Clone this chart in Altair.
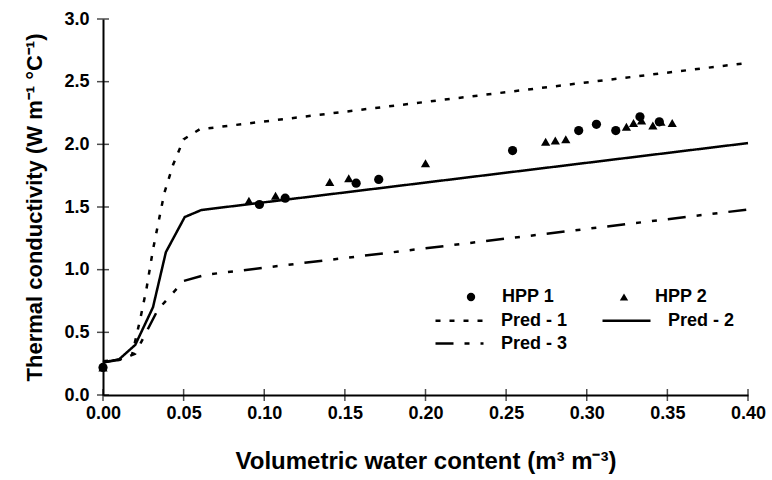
import altair as alt
import pandas as pd

# ---- data ----
hpp1_x = [0.0, 0.097, 0.113, 0.157, 0.171, 0.254, 0.295, 0.306, 0.318, 0.333, 0.345]
hpp1_y = [0.22, 1.52, 1.57, 1.69, 1.72, 1.95, 2.11, 2.16, 2.11, 2.22, 2.18]

hpp2_x = [0.0, 0.0905, 0.107, 0.1406, 0.1524, 0.200, 0.2745, 0.2805, 0.287,
          0.3246, 0.329, 0.334, 0.341, 0.346, 0.353]
hpp2_y = [0.22, 1.55, 1.59, 1.70, 1.73, 1.85, 2.02, 2.03, 2.04,
          2.14, 2.17, 2.19, 2.15, 2.18, 2.17]

pred1_x = [0.0, 0.010, 0.018, 0.023, 0.027, 0.031, 0.038, 0.0434, 0.050, 0.060, 0.40]
pred1_y = [0.27, 0.28, 0.32, 0.60, 0.85, 1.16, 1.61, 1.835, 2.04, 2.12, 2.65]

pred2_x = [0.0, 0.010, 0.020, 0.031, 0.039, 0.0507, 0.061, 0.40]
pred2_y = [0.26, 0.285, 0.40, 0.70, 1.14, 1.42, 1.476, 2.01]

pred3_x = [0.0, 0.010, 0.020, 0.026, 0.034, 0.0424, 0.050, 0.064, 0.40]
pred3_y = [0.26, 0.28, 0.33, 0.48, 0.68, 0.80, 0.91, 0.96, 1.48]

x_ticks = [0.0, 0.05, 0.10, 0.15, 0.20, 0.25, 0.30, 0.35, 0.40]
y_ticks = [0.0, 0.5, 1.0, 1.5, 2.0, 2.5, 3.0]

point_series = ["HPP 1", "HPP 2"]
line_series = ["Pred - 1", "Pred - 2", "Pred - 3"]

# ---- tables ----
pts = pd.concat([
    pd.DataFrame({"x": hpp1_x, "y": hpp1_y, "series": "HPP 1"}),
    pd.DataFrame({"x": hpp2_x, "y": hpp2_y, "series": "HPP 2"}),
], ignore_index=True)

frames = []
for name, xs, ys in [("Pred - 1", pred1_x, pred1_y),
                     ("Pred - 2", pred2_x, pred2_y),
                     ("Pred - 3", pred3_x, pred3_y)]:
    frames.append(pd.DataFrame({"x": xs, "y": ys, "series": name,
                                "order": list(range(len(xs)))}))
lines_df = pd.concat(frames, ignore_index=True)

FONT = "Liberation Sans"

xscale = alt.Scale(domain=[0, 0.4], nice=False, zero=False)
yscale = alt.Scale(domain=[0, 3.0], nice=False)

xaxis = alt.Axis(values=x_ticks, format=".2f", title="Volumetric water content (m³ m⁻³)",
                 ticks=False, grid=False, labelPadding=9, titlePadding=27,
                 labelFlush=False, titleFontSize=24)
yaxis = alt.Axis(values=y_ticks, format=".1f", title="Thermal conductivity (W m⁻¹ °C⁻¹)",
                 ticks=False, grid=False, labelPadding=14, titlePadding=17,
                 labelFlush=False, titleFontSize=22)

lines = alt.Chart(lines_df).mark_line(color="black", strokeWidth=2.5).encode(
    x=alt.X("x:Q", scale=xscale, axis=xaxis),
    y=alt.Y("y:Q", scale=yscale, axis=yaxis),
    strokeDash=alt.StrokeDash(
        "series:N",
        scale=alt.Scale(domain=line_series,
                        range=[[5, 9], [1, 0], [18, 11, 5, 11, 5, 11]]),
        legend=alt.Legend(title=None, orient="none", legendX=343, legendY=288,
                          direction="horizontal",
                          columns=2, columnPadding=29, rowPadding=0,
                          symbolType="M-2,0H2", symbolSize=576,
                          symbolStrokeWidth=2.5, symbolStrokeColor="black",
                          labelOffset=28, labelFontSize=18, labelFont=FONT,
                          labelFontWeight="bold", labelColor="black"),
    ),
    order="order:Q",
)

points = alt.Chart(pts).mark_point(filled=True, opacity=1, color="black", size=85).encode(
    x=alt.X("x:Q", scale=xscale),
    y=alt.Y("y:Q", scale=yscale),
    shape=alt.Shape(
        "series:N",
        scale=alt.Scale(domain=point_series, range=["circle", "triangle-up"]),
        legend=alt.Legend(title=None, orient="none", legendX=359, legendY=269,
                          direction="horizontal",
                          columns=2, columnPadding=60,
                          symbolSize=70, symbolFillColor="black",
                          symbolStrokeColor="black", symbolOpacity=1,
                          labelOffset=22, labelFontSize=18, labelFont=FONT,
                          labelFontWeight="bold", labelColor="black"),
    ),
)

xt = alt.Chart(pd.DataFrame({"v": x_ticks})).mark_tick(
    color="black", thickness=1.5, size=12, orient="vertical"
).encode(x=alt.X("v:Q", scale=xscale), y=alt.datum(0))

yt = alt.Chart(pd.DataFrame({"v": y_ticks})).mark_tick(
    color="black", thickness=1.5, size=12, orient="horizontal"
).encode(y=alt.Y("v:Q", scale=yscale), x=alt.datum(0))

chart = alt.layer(lines, points, xt, yt).properties(
    width=645, height=376,
    autosize=alt.AutoSizeParams(type="none"),
    padding={"left": 103, "top": 19, "right": 24, "bottom": 85},
).configure_view(stroke=None).configure_axis(
    domainColor="black", domainWidth=2,
    labelFont=FONT, labelFontSize=18, labelFontWeight="bold", labelColor="black",
    titleFont=FONT, titleFontWeight="bold", titleColor="black",
).configure_legend(padding=0)

chart.save("out.html", embed_options={"renderer": "svg", "actions": False})
